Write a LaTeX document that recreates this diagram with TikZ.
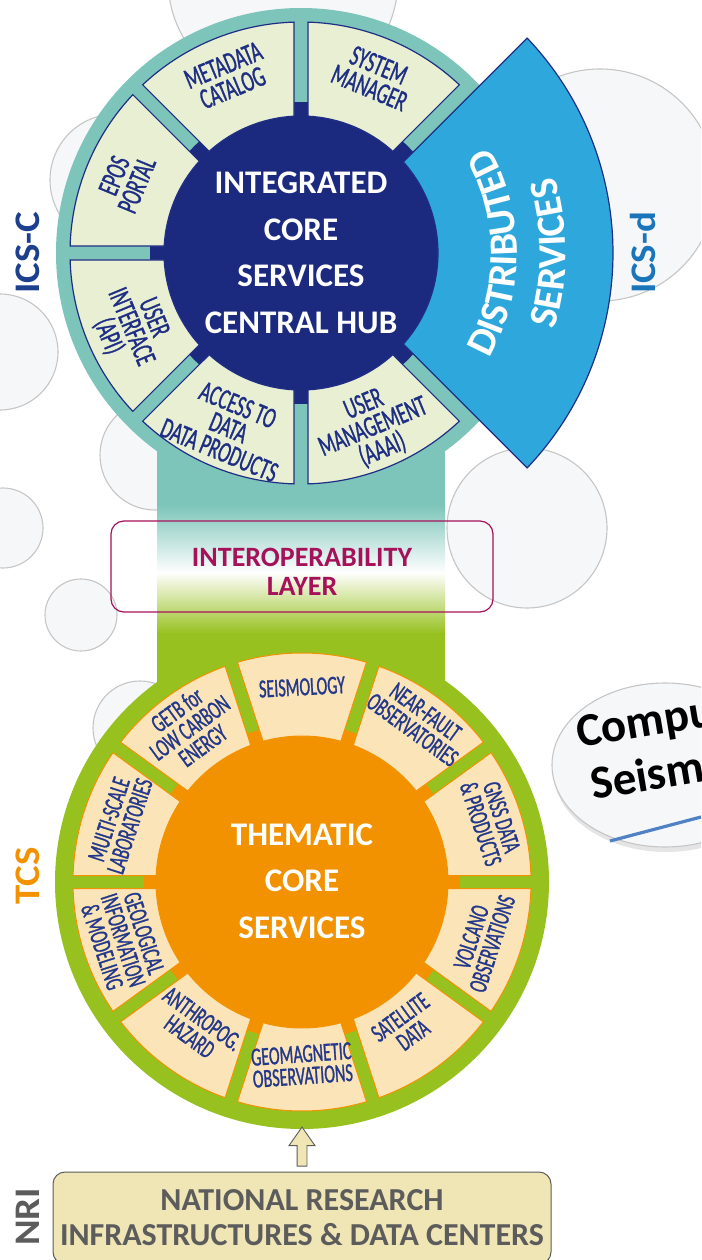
\documentclass[tikz,border=0pt]{standalone}
\usepackage{fontspec}
\setmainfont{Carlito}
\newfontfamily\narrowfont[FakeStretch=0.62, FakeBold=1]{Carlito}
\newfontfamily\widefont[FakeStretch=1.08]{Carlito}
\usetikzlibrary{positioning,shapes.arrows,decorations.text}

\definecolor{icsteal}{HTML}{7DC5BA}
\definecolor{hubnavy}{HTML}{1B2A7F}
\definecolor{icsfill}{HTML}{E8EFD2}
\definecolor{icsnavy}{HTML}{1F2E85}
\definecolor{distblue}{HTML}{2EA8DC}
\definecolor{tcsgreen}{HTML}{97C11F}
\definecolor{tcsorange}{HTML}{F39200}
\definecolor{tcsfill}{HTML}{FBE5B8}
\definecolor{tcsnavy}{HTML}{23388B}
\definecolor{layerred}{HTML}{A6125A}
\definecolor{nrifill}{HTML}{EFE5B5}
\definecolor{nrigray}{HTML}{5C5C5C}
\definecolor{bubblefill}{HTML}{F6F7F9}
\definecolor{bubbleline}{HTML}{C6C6C6}
\definecolor{icsclbl}{HTML}{1C3F8E}
\definecolor{icsdlbl}{HTML}{1B75BB}
\definecolor{compublue}{HTML}{4F82C4}

% ring segment with straight gaps of constant width
% #1 centre, #2 start angle, #3 end angle, #4 inner r, #5 outer r, #6 half gap, #7 style
\newcommand\ringseg[7]{%
  \draw[#7] ([shift={({#2+asin(#6/#5)}:#5)}]#1)
    arc[start angle={#2+asin(#6/#5)}, end angle={#3-asin(#6/#5)}, radius=#5]
    -- ([shift={({#3-asin(#6/#4)}:#4)}]#1)
    arc[start angle={#3-asin(#6/#4)}, end angle={#2+asin(#6/#4)}, radius=#4]
    -- cycle;}

\begin{document}
\begin{tikzpicture}[x=1pt, y=1pt,
    bubble/.style={fill=bubblefill, draw=bubbleline, line width=1.1},
    icsseg/.style={fill=icsfill, draw=icsnavy, line width=1.2},
    tcsseg/.style={fill=tcsfill, draw=tcsorange, line width=1},
    icslbl/.style={text=icsnavy, font=\narrowfont\fontsize{29.5}{24.5}\selectfont, align=center, inner sep=0},
    tcslbl/.style={text=tcsnavy, font=\narrowfont\fontsize{26}{22}\selectfont, align=center, inner sep=0},
    hubtext/.style={text=white, font=\bfseries\fontsize{33}{46.5}\selectfont, align=center},
    sidelbl/.style={font=\widefont\bfseries\fontsize{36}{36}\selectfont, rotate=90, inner sep=0},
    layerbox/.style={draw=layerred, line width=1.2, rounded corners=13, minimum width=382, minimum height=91},
    nribox/.style={draw=nrigray, fill=nrifill, line width=1, rounded corners=12,
        minimum width=498, minimum height=92, text=nrigray,
        font=\bfseries\fontsize{32}{35}\selectfont, align=center},
    feedarrow/.style={single arrow, draw=nrigray, fill=nrifill, line width=0.9,
        shape border rotate=90, minimum height=39, minimum width=25,
        single arrow head extend=8, single arrow tip angle=70, inner sep=4.5},
    disttext/.style={decorate, decoration={text along path, text align=center, text color=white,
        text={|\bfseries\fontsize{40}{40}\selectfont|#1}}}]

\useasboundingbox (0,0) rectangle (701,-1260);
\clip (0,0) rectangle (701,-1260);
\fill[white] (0,0) rectangle (701,-1260);

\coordinate (icsc) at (301,-253);
\coordinate (tcs) at (302,-882);

% background bubbles
\foreach \bx/\by/\br in {283/20/115, 116/-180/66, 0/-352/58, 155/-455/55, 3/-528/40,
                         81/-615/36, 140/-728/47, 600/-185/116, 527/-528/80}
  \draw[bubble] (\bx,\by) circle[radius=\br];

% bands between the two hubs
\fill[icsteal] (157,-253) rectangle (445,-506);
\shade[top color=icsteal, bottom color=white] (157,-505) rectangle (445,-573);
\shade[top color=white, bottom color=tcsgreen] (157,-572) rectangle (445,-634);
\fill[tcsgreen] (157,-633) rectangle (445,-882);

% ICS-C hub
\fill[icsteal] (icsc) circle[radius=245];
\fill[hubnavy] (icsc) circle[radius=151];
\foreach \a in {45,90,...,270}
  {\ringseg{icsc}{\a}{\a+45}{137}{231}{7}{icsseg}}
\ringseg{icsc}{-45}{45}{137}{312}{8}{fill=distblue, draw=icsnavy, line width=1.2}

\node[hubtext] (hub) at (icsc) {INTEGRATED\\CORE\\SERVICES\\CENTRAL HUB};

\node[icslbl, rotate=22.5] (metadata) at ([shift={(112.5:191)}]icsc) {METADATA\\CATALOG};
\node[icslbl, rotate=-22.5] (sysmgr) at ([shift={(67.5:191)}]icsc) {SYSTEM\\MANAGER};
\node[icslbl, rotate=67.5] (portal) at ([shift={(157.5:190)}]icsc) {EPOS\\PORTAL};
\node[icslbl, rotate=-67.5] (userif) at ([shift={(203.5:186)}]icsc) {USER\\INTERFACE\\(API)};
\node[icslbl, rotate=-22.5] (access) at ([shift={(247.5:189)}]icsc) {ACCESS TO\\DATA\\DATA PRODUCTS};
\node[icslbl, rotate=22.5] (usermgmt) at ([shift={(292.5:189)}]icsc) {USER\\MANAGEMENT\\(AAAI)};

\path[disttext=DISTRIBUTED]
  ([shift={(-35:216)}]icsc) arc[start angle=-35, end angle=35, radius=216];
\path[disttext=SERVICES]
  ([shift={(-25:265)}]icsc) arc[start angle=-25, end angle=25, radius=265];

% TCS hub
\fill[tcsgreen] (tcs) circle[radius=247];
\fill[tcsorange] (tcs) circle[radius=158];
\foreach \a in {0,36,...,324}
  {\ringseg{tcs}{\a}{\a+36}{146}{229}{6.5}{tcsseg}}

\node[hubtext] (thematic) at ([yshift=1]tcs) {THEMATIC\\CORE\\SERVICES};

\node[tcslbl, rotate=3] (seismo) at ([shift={(90:195)}]tcs) {SEISMOLOGY};
\node[tcslbl, rotate=-36] (nearfault) at ([shift={(54:199)}]tcs) {NEAR-FAULT\\OBSERVATORIES};
\node[tcslbl, rotate=-72] (gnss) at ([shift={(18:199)}]tcs) {GNSS DATA\\\& PRODUCTS};
\node[tcslbl, rotate=72] (volcano) at ([shift={(-18:189)}]tcs) {VOLCANO\\OBSERVATIONS};
\node[tcslbl, rotate=36] (satellite) at ([shift={(-54:178)}]tcs) {SATELLITE\\DATA};
\node[tcslbl, rotate=4] (geomag) at ([shift={(-90:183)}]tcs) {GEOMAGNETIC\\OBSERVATIONS};
\node[tcslbl, rotate=-36] (anthro) at ([shift={(-126:180)}]tcs) {ANTHROPOG.\\HAZARD};
\node[tcslbl, rotate=-72] (geolog) at ([shift={(-162:188)}]tcs) {GEOLOGICAL\\INFORMATION\\\& MODELING};
\node[tcslbl, rotate=72] (multiscale) at ([shift={(162:192)}]tcs) {MULTI-SCALE\\LABORATORIES};
\node[tcslbl, rotate=36] (getb) at ([shift={(126:191)}]tcs) {GETB for\\LOW CARBON\\ENERGY};

% interoperability layer
\node[layerbox] (layer) at (302,-566.5) {};
\node[text=layerred, font=\bfseries\fontsize{28}{29}\selectfont, align=center] (layerlbl)
  at (302,-572) {INTEROPERABILITY\\LAYER};

% national research infrastructures
\node[nribox] (nri) at (302,-1218) {NATIONAL RESEARCH\\INFRASTRUCTURES \& DATA CENTERS};
\node[feedarrow, above=5pt of nri] (feed) {};

% side labels
\node[sidelbl, text=icsclbl] (icsctag) at (28,-253) {ICS-C};
\node[sidelbl, text=icsdlbl] (icsdtag) at (643,-253) {ICS-d};
\node[sidelbl, text=tcsorange] (tcstag) at (28,-876) {TCS};
\node[sidelbl, text=nrigray] (nritag) at (28,-1217) {NRI};

% bubble on the right edge
\fill[black, opacity=0.1] (666,-770) ellipse[x radius=113, y radius=82];
\draw[bubble] (665,-765) ellipse[x radius=113, y radius=82];
\node[anchor=base west, rotate=9.5, font=\bfseries\fontsize{47}{47}\selectfont, inner sep=0] (compu)
  at (579,-748) {Compu};
\node[anchor=base west, rotate=9.5, font=\bfseries\fontsize{47}{47}\selectfont, inner sep=0] (seism)
  at (593,-800) {Seism};
\draw[compublue, line width=3.2] (610,-841) -- (701,-817);

\end{tikzpicture}
\end{document}
